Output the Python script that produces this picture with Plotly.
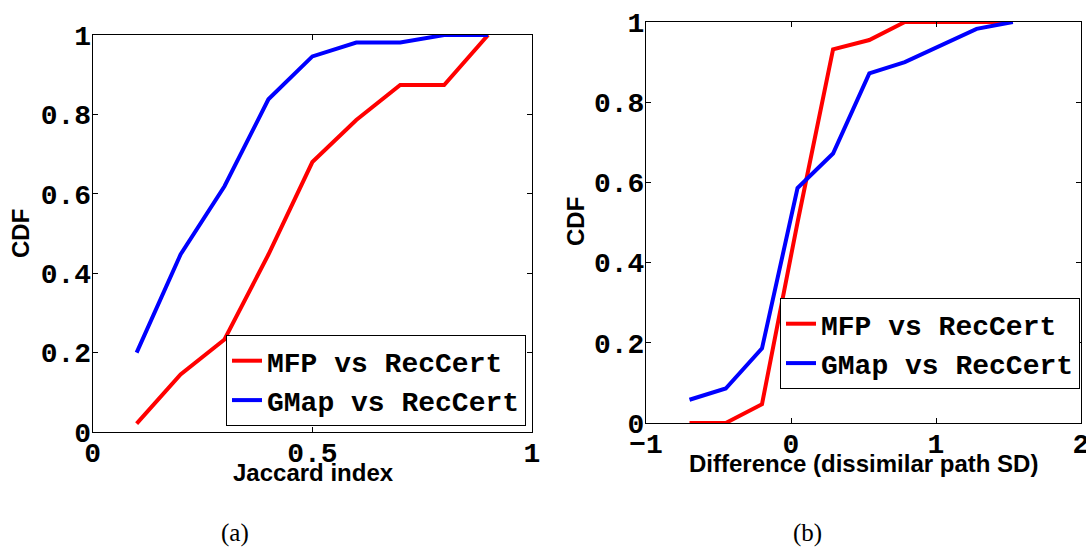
import plotly.graph_objects as go

# ---- data ----
jac_x = [0.1, 0.2, 0.3, 0.4, 0.5, 0.6, 0.7, 0.8, 0.9]
jac_mfp = [0.021, 0.145, 0.233, 0.447, 0.68, 0.786, 0.874, 0.874, 1.0]
jac_gmap = [0.2, 0.447, 0.619, 0.838, 0.946, 0.981, 0.981, 1.0, 1.0]

diff_x = [-0.70, -0.45, -0.20, 0.045, 0.29, 0.54, 0.785, 1.03, 1.28, 1.53]
diff_mfp = [0.0, 0.0, 0.047, 0.50, 0.932, 0.955, 1.0, 1.0, 1.0, 1.0]
diff_gmap = [0.058, 0.086, 0.186, 0.586, 0.672, 0.872, 0.90, 0.942, 0.983, 1.0]

series_names = ["MFP vs RecCert", "GMap vs RecCert"]
left_xticks = [0, 0.5, 1]
right_xticks = [-1, 0, 1, 2]
yticks = [0, 0.2, 0.4, 0.6, 0.8, 1]
captions = ["(a)", "(b)"]
x_titles = ["Jaccard index", "Difference (dissimilar path SD)"]
y_title = "CDF"

RED = "#ff0000"
BLUE = "#0000ff"
W, H = 1086, 552

fig = go.Figure()
fig.add_trace(go.Scatter(x=jac_x, y=jac_mfp, mode="lines", name=series_names[0],
                         line=dict(color=RED, width=4), xaxis="x", yaxis="y", legend="legend"))
fig.add_trace(go.Scatter(x=jac_x, y=jac_gmap, mode="lines", name=series_names[1],
                         line=dict(color=BLUE, width=4), xaxis="x", yaxis="y", legend="legend"))
fig.add_trace(go.Scatter(x=diff_x, y=diff_mfp, mode="lines", name=series_names[0],
                         line=dict(color=RED, width=4), xaxis="x2", yaxis="y2", legend="legend2"))
fig.add_trace(go.Scatter(x=diff_x, y=diff_gmap, mode="lines", name=series_names[1],
                         line=dict(color=BLUE, width=4), xaxis="x2", yaxis="y2", legend="legend2"))

tickfont = dict(family="Liberation Mono", size=28, color="black", weight="bold")
titlefont = dict(family="Liberation Sans", size=24, color="black", weight="bold")
legfont = dict(family="Liberation Mono", size=28, color="black", weight="bold")
capfont = dict(family="Liberation Serif", size=25, color="black")

def ax(**kw):
    d = dict(showline=True, linecolor="black", linewidth=1, mirror="ticks",
             ticks="inside", ticklen=5, tickcolor="black", tickwidth=1,
             showgrid=False, zeroline=False, tickfont=tickfont, automargin=False,
             ticklabeloverflow="allow", ticklabelstandoff=-5)
    d.update(kw)
    return d

lx0, lx1 = 92.7 / W, 532 / W
ly0, ly1 = 1 - 432 / H, 1 - 35 / H
rx0, rx1 = 646 / W, 1081 / W
ry0, ry1 = 1 - 423 / H, 1 - 22 / H

def txt(text, px, py, font, angle=0):
    return dict(text=text, x=px / W, y=1 - py / H, xref="paper", yref="paper",
                xanchor="center", yanchor="middle", showarrow=False,
                font=font, textangle=angle)

fig.update_layout(
    template="none",
    width=W, height=H,
    margin=dict(l=0, r=0, t=0, b=0),
    paper_bgcolor="white", plot_bgcolor="white",
    showlegend=True,
    xaxis=ax(domain=[lx0, lx1], range=[0, 1], tickvals=left_xticks, anchor="y"),
    yaxis=ax(domain=[ly0, ly1], range=[0, 1], tickvals=yticks, anchor="x"),
    xaxis2=ax(domain=[rx0, rx1], range=[-1, 2], tickvals=right_xticks, anchor="y2"),
    yaxis2=ax(domain=[ry0, ry1], range=[0, 1], tickvals=yticks, anchor="x2"),
    legend=dict(x=226 / W, y=1 - 335 / H, xanchor="left", yanchor="top",
                bgcolor="white", bordercolor="black", borderwidth=1,
                font=legfont, itemwidth=30, tracegroupgap=0),
    legend2=dict(x=780 / W, y=1 - 298 / H, xanchor="left", yanchor="top",
                 bgcolor="white", bordercolor="black", borderwidth=1,
                 font=legfont, itemwidth=30, tracegroupgap=0),
    annotations=[
        txt(x_titles[0], 313, 472, titlefont),
        txt(x_titles[1], 863, 463, titlefont),
        txt(y_title, 20, 234, titlefont, -90),
        txt(y_title, 575, 222, titlefont, -90),
        txt(captions[0], 235, 533, capfont),
        txt(captions[1], 807, 533, capfont),
    ],
)

fig.write_html("out.html")
